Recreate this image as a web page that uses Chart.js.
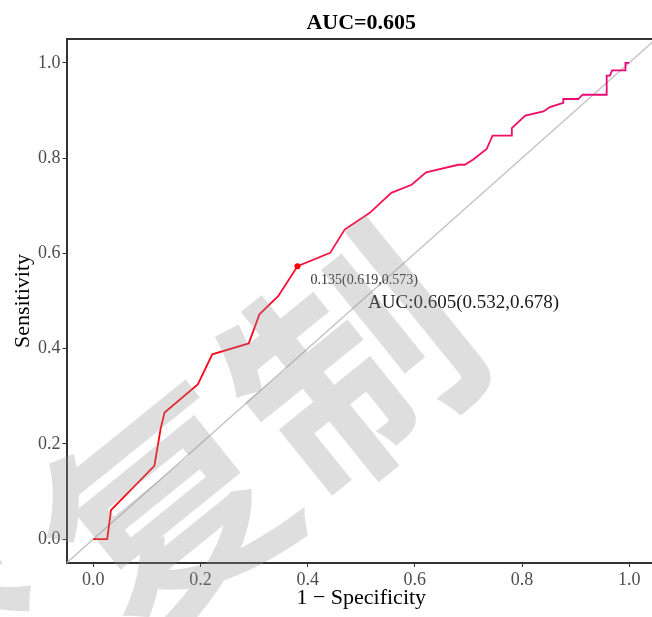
<!DOCTYPE html>
<html><head><meta charset="utf-8">
<script src="https://cdn.jsdelivr.net/npm/chart.js@4.4.1/dist/chart.umd.min.js"></script>
<style>
html,body{margin:0;padding:0;overflow:hidden;background:#fff;width:652px;height:617px}
#wrap{width:660px;height:617px;position:relative}
canvas{display:block}
</style></head>
<body><div id="wrap"><canvas id="c" width="660" height="617"></canvas></div>
<script>
// ROC curve (1 - specificity, sensitivity)
const fpr = [0, 0.026, 0.033, 0.114, 0.126, 0.133, 0.195, 0.222, 0.290, 0.310, 0.345, 0.381, 0.442, 0.469, 0.516, 0.556, 0.594, 0.621, 0.681, 0.693, 0.709, 0.734, 0.745, 0.781, 0.781, 0.806, 0.840, 0.852, 0.877, 0.877, 0.905, 0.913, 0.958, 0.958, 0.964, 0.968, 0.993, 0.993, 1.0];
const tpr = [0, 0, 0.061, 0.154, 0.234, 0.266, 0.325, 0.388, 0.411, 0.472, 0.510, 0.573, 0.601, 0.650, 0.685, 0.727, 0.744, 0.770, 0.786, 0.786, 0.797, 0.819, 0.847, 0.847, 0.863, 0.889, 0.898, 0.907, 0.916, 0.924, 0.924, 0.933, 0.933, 0.973, 0.973, 0.984, 0.984, 1.0, 1.0];
const diagX = [-0.05, 1.05];
const diagY = [-0.05, 1.05];
const bestThreshold = 0.135;
const bestSpecificity = 0.619;
const bestSensitivity = 0.573;
const aucValue = 0.605;
const aucLow = 0.532;
const aucHigh = 0.678;
const xTicks = [0, 0.2, 0.4, 0.6, 0.8, 1.0];
const yTicks = [0, 0.2, 0.4, 0.6, 0.8, 1.0];
const titleText = "AUC=" + aucValue.toFixed(3);
const bestLabel = bestThreshold.toFixed(3) + "(" + bestSpecificity.toFixed(3) + "," + bestSensitivity.toFixed(3) + ")";
const aucLabel = "AUC:" + aucValue.toFixed(3) + "(" + aucLow.toFixed(3) + "," + aucHigh.toFixed(3) + ")";
const watermarkChars = ["禁", "复", "制"];

const SERIF = '"Liberation Serif", "Times New Roman", serif';
// watermark glyph placement (style only)
const WM_POS = [[-35, 680], [165, 512], [352, 362]];

function rocGradient(ctx) {
  const chart = ctx.chart;
  const ca = chart.chartArea;
  if (!ca) return '#ff0000';
  const g = chart.ctx.createLinearGradient(ca.left, ca.bottom, ca.right, ca.top);
  g.addColorStop(0, '#ff0000');
  g.addColorStop(0.25, '#ff0010');
  g.addColorStop(0.55, '#f8164a');
  g.addColorStop(1, '#e8047e');
  return g;
}

const overlay = {
  id: 'overlay',
  afterDraw(chart) {
    const {ctx, chartArea: ca, scales} = chart;
    ctx.save();
    ctx.strokeStyle = '#333333';
    ctx.lineWidth = 2;
    ctx.beginPath();
    ctx.moveTo(ca.left, ca.top);
    ctx.lineTo(ca.right, ca.top);
    ctx.lineTo(ca.right, ca.bottom);
    ctx.stroke();
    ctx.fillStyle = '#000';
    ctx.font = 'bold 22px ' + SERIF;
    ctx.textAlign = 'center';
    ctx.textBaseline = 'alphabetic';
    ctx.fillText(titleText, (ca.left + ca.right) / 2, 28.5);
    ctx.textAlign = 'left';
    ctx.fillStyle = '#333333';
    ctx.font = '14px ' + SERIF;
    ctx.fillText(bestLabel, scales.x.getPixelForValue(1 - bestSpecificity) + 13, scales.y.getPixelForValue(bestSensitivity) + 18);
    ctx.fillStyle = '#1a1a1a';
    ctx.font = '19px ' + SERIF;
    ctx.fillText(aucLabel, scales.x.getPixelForValue(0.5127), scales.y.getPixelForValue(0.486));
    ctx.fillStyle = 'rgba(150,150,150,0.31)';
    ctx.font = 'bold 235px "Noto Sans CJK SC"';
    ctx.textAlign = 'center';
    ctx.textBaseline = 'middle';
    const ang = -39 * Math.PI / 180;
    watermarkChars.forEach((ch, i) => {
      ctx.save();
      ctx.translate(WM_POS[i][0], WM_POS[i][1]);
      ctx.rotate(ang);
      ctx.fillText(ch, 0, 0);
      ctx.restore();
    });
    ctx.restore();
  }
};

const axisCommon = (title, fit) => ({
  type: 'linear',
  min: -0.05,
  max: 1.05,
  grid: {display: true, drawOnChartArea: false, tickLength: 4, tickColor: '#333333', tickWidth: 1},
  border: {display: true, color: '#333333', width: 2},
  ticks: {
    color: '#4d4d4d',
    font: {family: SERIF, size: 18},
    padding: 2,
    autoSkip: false,
    maxRotation: 0,
    callback: v => Number(v).toFixed(1)
  },
  title: {display: true, text: title, color: '#000', font: {family: SERIF, size: 22}},
  afterFit: fit
});

const xScale = axisCommon('1 − Specificity', s => { s.height = 54; });
xScale.afterBuildTicks = s => { s.ticks = xTicks.map(v => ({value: v})); };
xScale.title.padding = {top: 0, bottom: 6};
const yScale = axisCommon('Sensitivity', s => { s.width = 66.5; });
yScale.afterBuildTicks = s => { s.ticks = yTicks.map(v => ({value: v})); };
yScale.title.padding = {top: 10, bottom: 0};

new Chart(document.getElementById('c'), {
  type: 'scatter',
  data: {
    datasets: [
      {
        label: 'best',
        data: [{x: 1 - bestSpecificity, y: bestSensitivity}],
        pointRadius: 3,
        pointBackgroundColor: '#ff0000',
        pointBorderWidth: 0,
        showLine: false
      },
      {
        label: 'ROC',
        data: fpr.map((x, i) => ({x, y: tpr[i]})),
        showLine: true,
        borderColor: rocGradient,
        borderWidth: 1.8,
        pointRadius: 0,
        tension: 0
      },
      {
        label: 'diag',
        data: diagX.map((x, i) => ({x, y: diagY[i]})),
        showLine: true,
        borderColor: '#bebebe',
        borderWidth: 1.3,
        pointRadius: 0
      }
    ]
  },
  options: {
    responsive: false,
    animation: false,
    devicePixelRatio: 1,
    layout: {padding: {top: 39, right: 4, left: 0, bottom: 0}},
    plugins: {legend: {display: false}, tooltip: {enabled: false}, title: {display: false}},
    scales: {x: xScale, y: yScale}
  },
  plugins: [overlay]
});
</script>
</body></html>
